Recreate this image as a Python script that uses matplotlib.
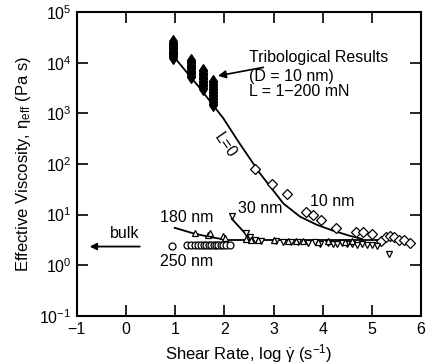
import numpy as np
import matplotlib
matplotlib.use('Agg')
import matplotlib.pyplot as plt

plt.rcParams['font.family'] = ['Liberation Sans', 'DejaVu Sans']
plt.rcParams['mathtext.fontset'] = 'custom'
plt.rcParams['mathtext.rm'] = 'Liberation Sans'
plt.rcParams['mathtext.it'] = 'Liberation Sans'

# tribological results (filled), x = log shear rate, y = log10 viscosity
trib_x = [0.96]*15 + [1.33]*15 + [1.56]*15 + [1.77]*17
trib_y = list(np.linspace(4.10, 4.42, 15)) + list(np.linspace(3.72, 4.06, 15)) \
    + list(np.linspace(3.48, 3.86, 15)) + list(np.linspace(3.16, 3.64, 17))

# 10 nm (open diamonds)
d10_x = [2.62, 2.96, 3.27, 3.66, 3.81, 3.96, 4.27, 4.68, 4.83, 5.01, 5.18, 5.28,
         5.36, 5.45, 5.55, 5.65, 5.78]
d10_y = [1.91, 1.61, 1.41, 1.06, 0.99, 0.90, 0.73, 0.66, 0.66, 0.61, 0.48, 0.56,
         0.58, 0.55, 0.50, 0.50, 0.44]

# 30 nm (down triangles)
d30_x = [2.15, 2.45, 2.52, 2.62, 2.75, 3.05, 3.2, 3.35, 3.5, 3.7, 3.85, 3.95,
         4.1, 4.2, 4.3, 4.4, 4.5, 4.6, 4.7, 4.8, 4.9, 5.0, 5.1, 5.34]
d30_y = [0.97, 0.63, 0.55, 0.50, 0.48, 0.47, 0.46, 0.45, 0.46, 0.44, 0.45, 0.43,
         0.44, 0.43, 0.42, 0.44, 0.42, 0.43, 0.41, 0.42, 0.40, 0.41, 0.39, 0.22]

# 180 nm (up triangles)
d180_x = [1.40, 1.67, 1.71, 1.98, 2.01, 2.45, 2.55, 2.68, 3.0, 3.3, 3.45, 3.6,
          3.9, 4.1, 4.45, 4.6]
d180_y = [0.63, 0.60, 0.63, 0.57, 0.53, 0.52, 0.50, 0.50, 0.49, 0.48, 0.47, 0.48,
          0.46, 0.47, 0.46, 0.47]

# 250 nm (open circles)
d250_x = [0.93, 1.23, 1.32, 1.40, 1.47, 1.53, 1.58, 1.63, 1.68, 1.73, 1.78,
          1.83, 1.88, 1.93, 1.98, 2.04, 2.12]
d250_y = [0.39, 0.40, 0.41, 0.41, 0.40, 0.40, 0.40, 0.41, 0.40, 0.40, 0.40,
          0.40, 0.40, 0.41, 0.40, 0.40, 0.41]

# fitted lines
fit10_x = [1.03, 1.5, 1.98, 2.3, 2.72, 3.2, 3.54, 3.88, 4.22, 4.56, 4.8]
fit10_y = [4.05, 3.5, 2.9, 2.42, 1.82, 1.22, 0.96, 0.80, 0.68, 0.58, 0.52]
flat_x = [2.0, 5.1]
flat_y = [0.50, 0.50]
fit180_x = [0.99, 1.37, 1.7, 2.0]
fit180_y = [0.74, 0.63, 0.56, 0.51]
fit30_x = [2.15, 2.45, 2.55]
fit30_y = [0.92, 0.60, 0.50]

p = lambda v: 10 ** np.asarray(v)

fig = plt.figure(figsize=(4.27, 3.64), dpi=100)
ax = fig.add_axes([0.180, 0.132, 0.806, 0.835])

lk = dict(color='black', lw=1.3)
ax.plot(fit10_x, p(fit10_y), **lk)
ax.plot(flat_x, p(flat_y), **lk)
ax.plot(fit180_x, p(fit180_y), **lk)
ax.plot(fit30_x, p(fit30_y), **lk)

ax.plot(trib_x, p(trib_y), 'd', color='black', ms=6, mew=0.8, ls='none')
ax.plot(d10_x, p(d10_y), 'D', mfc='white', mec='black', ms=5, mew=0.9, ls='none')
ax.plot(d30_x, p(d30_y), 'v', mfc='white', mec='black', ms=5, mew=0.9, ls='none')
ax.plot(d180_x, p(d180_y), '^', mfc='white', mec='black', ms=5, mew=0.9, ls='none')
ax.plot(d250_x, p(d250_y), 'o', mfc='white', mec='black', ms=5, mew=0.9, ls='none')

ax.set_yscale('log')
ax.set_xlim(-1, 6)
ax.set_ylim(1e-1, 1e5)
ax.set_xticks(range(-1, 7))
ax.set_xticklabels(['\u22121', '0', '1', '2', '3', '4', '5', '6'])
ax.set_yticks([10.0 ** k for k in range(-1, 6)])
ax.minorticks_off()
ax.tick_params(direction='in', length=8, width=1.2, top=True, right=True,
               labelsize=11.5, pad=4)
for s in ax.spines.values():
    s.set_linewidth(1.5)

ax.set_xlabel('Shear Rate, log $\\dot{\\gamma}$ (s$^{\u22121}$)', fontsize=12)
ax.set_ylabel('Effective Viscosity, \u03b7$_{\\mathregular{eff}}$ (Pa s)', fontsize=12)

fs = 11.5
ax.annotate('Tribological Results', xy=(1.87, p(3.74)), xytext=(2.5, p(4.11)),
            fontsize=fs, va='center',
            arrowprops=dict(arrowstyle='-|>', color='black', lw=1.2,
                            shrinkA=0, shrinkB=0))
ax.text(2.5, p(3.72), '(D = 10 nm)', fontsize=fs, va='center')
ax.text(2.5, p(3.44), 'L = 1\u2212200 mN', fontsize=fs, va='center')
ax.text(2.02, p(2.37), 'L=0', fontsize=fs, rotation=-55, ha='center', va='center')
ax.text(3.74, p(1.26), '10 nm', fontsize=fs, va='center')
ax.text(2.28, p(1.13), '30 nm', fontsize=fs, va='center')
ax.text(0.69, p(0.95), '180 nm', fontsize=fs, va='center')
ax.text(0.69, p(0.07), '250 nm', fontsize=fs, va='center')
ax.text(-0.33, p(0.62), 'bulk', fontsize=fs, va='center')
ax.annotate('', xy=(-0.74, p(0.37)), xytext=(0.28, p(0.37)),
            arrowprops=dict(arrowstyle='-|>', color='black', lw=1.3,
                            shrinkA=0, shrinkB=0))

fig.savefig('out.png', dpi=100)
